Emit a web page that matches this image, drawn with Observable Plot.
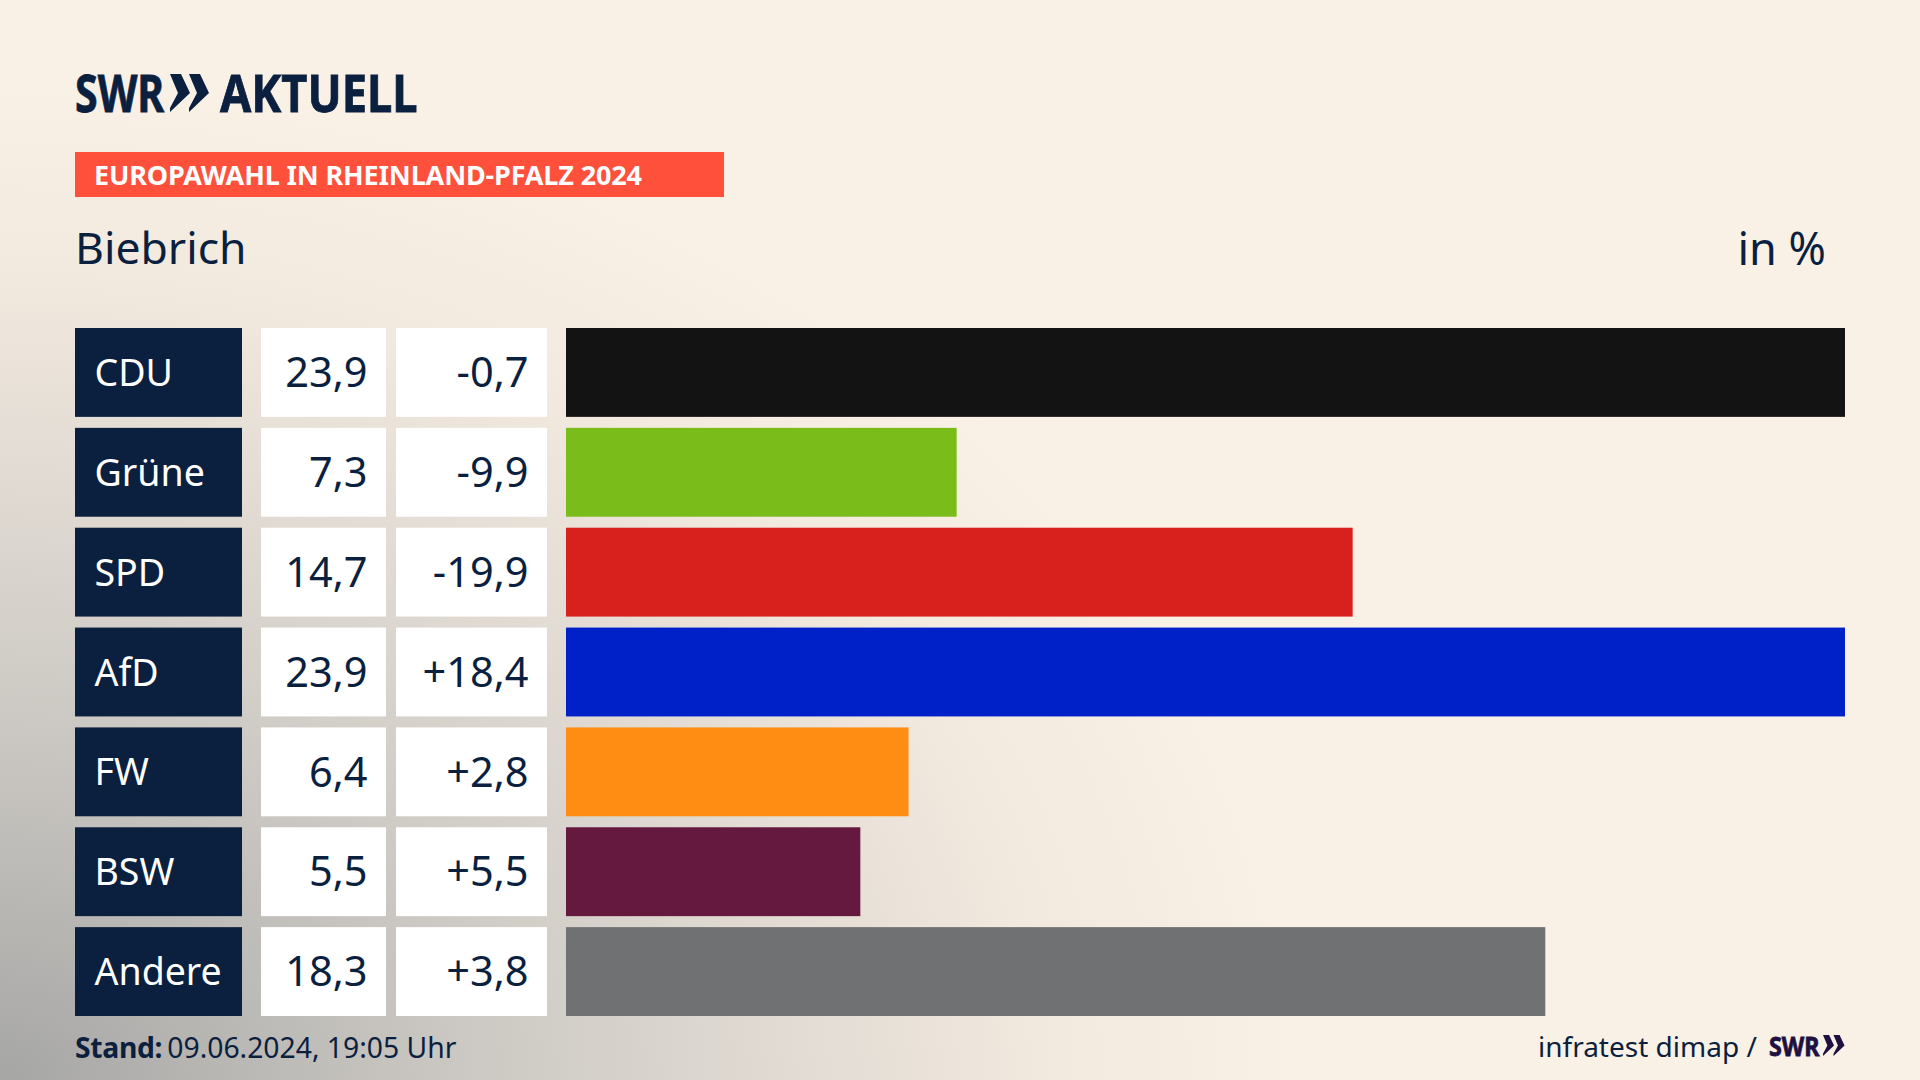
<!DOCTYPE html>
<html>
<head>
<meta charset="utf-8">
<script src="https://cdn.jsdelivr.net/npm/d3@7"></script>
<script src="https://cdn.jsdelivr.net/npm/@observablehq/plot@0.6"></script>
<style>
  html, body { margin: 0; padding: 0; }
  #page {
    position: relative; width: 1920px; height: 1080px; overflow: hidden;
    font-family: "Noto Sans", sans-serif; color: #0b1f3f;
    background:
      radial-gradient(ellipse 1300px 1000px at 0% 100%, #a6a6a5 0%, #c8c5c0 32%, #dfd9d2 58%, #f3eadf 82%, #faf1e6 100%),
      #faf1e6;
  }
  #page > div { position: absolute; white-space: nowrap; }
  #page svg.plot { display: block; max-width: none; }
  .logo { font-weight: 700; transform-origin: left center; -webkit-text-stroke: 0.8px currentColor; }
</style>
</head>
<body>
<div id="page">
  <div class="logo" style="left:75px;top:58px;font-size:52px;line-height:68px;transform:scaleX(0.79)">SWR</div>
  <div style="left:169px;top:74px">
    <svg width="40" height="38" viewBox="0 0 40 38"><path d="M1 0 L12 0 L21 19 L1 38 L1 34 L9 19Z M20 0 L31 0 L40 19 L20 38 L20 34 L28 19Z" fill="#0b1f3f"/></svg>
  </div>
  <div class="logo" style="left:220px;top:58px;font-size:52px;line-height:68px;transform:scaleX(0.87)">AKTUELL</div>

  <div style="left:75px;top:152px;width:649px;height:45px;background:#ff503c"></div>
  <div style="left:94px;top:152px;font-size:27px;line-height:45px;font-weight:700;color:#fff;letter-spacing:-0.15px">EUROPAWAHL IN RHEINLAND-PFALZ 2024</div>

  <div style="left:75px;top:217px;font-size:44.5px;line-height:60px">Biebrich</div>
  <div style="right:94px;top:218px;font-size:45px;line-height:60px">in %</div>

  <div id="col-party" style="left:75px;top:328px"></div>
  <div id="col-share" style="left:261px;top:328px"></div>
  <div id="col-change" style="left:396px;top:328px"></div>
  <div id="col-bars" style="left:566px;top:328px"></div>

  <div style="left:75px;top:1027px;font-size:28.3px;line-height:40px"><b style="letter-spacing:-0.3px;margin-right:5px">Stand:</b>09.06.2024, 19:05 Uhr</div>
  <div style="left:1538px;top:1026px;font-size:28px;line-height:40px">infratest dimap /</div>
  <div class="logo" style="left:1769px;top:1026px;font-size:27px;line-height:40px;color:#1e1040;transform:scaleX(0.86)">SWR</div>
  <div style="left:1822px;top:1035px">
    <svg width="23" height="21" viewBox="0 0 40 38"><path d="M1 0 L12 0 L21 19 L1 38 L1 34 L9 19Z M20 0 L31 0 L40 19 L20 38 L20 34 L28 19Z" fill="#1e1040"/></svg>
  </div>
</div>

<script>
const parties = ['CDU', 'Grüne', 'SPD', 'AfD', 'FW', 'BSW', 'Andere']
const shares = [23.9, 7.3, 14.7, 23.9, 6.4, 5.5, 18.3]
const changes = [-0.7, -9.9, -19.9, 18.4, 2.8, 5.5, 3.8]
const partyColors = ['#131313', '#7abc19', '#d8201c', '#0021c8', '#ff8d13', '#66193e', '#707173']

const rows = parties.map((party, i) => ({party, share: shares[i], change: changes[i]}))

const comma = v => v.toFixed(1).replace('.', ',')
const signed = v => (v > 0 ? '+' : '') + comma(v)

const rowsHeight = 688
const yScale = {type: 'band', domain: parties, paddingInner: 0.11, paddingOuter: 0, round: false, axis: null}
const base = {
  height: rowsHeight,
  margin: 0,
  y: yScale,
  style: {background: 'transparent', fontFamily: '"Noto Sans", sans-serif', overflow: 'visible'}
}

// one table column: a cell per row and its text
function column(id, width, cellFill, textFill, text, anchor, fontSize) {
  let chart = Plot.plot({
    ...base,
    width,
    marks: [
      Plot.cell(rows, {y: 'party', fill: cellFill}),
      Plot.text(rows, {
        y: 'party', text,
        frameAnchor: anchor,
        dx: anchor == 'left' ? 19 : -19,
        dy: 1,
        fill: textFill,
        fontSize
      })
    ]
  })
  d3.select(id).append(() => chart)
}

column('#col-party', 167, '#0b1f3f', '#ffffff', d => d.party, 'left', 37.5)
column('#col-share', 125, '#ffffff', '#0b1f3f', d => comma(d.share), 'right', 41.5)
column('#col-change', 151, '#ffffff', '#0b1f3f', d => signed(d.change), 'right', 41.5)

let bars = Plot.plot({
  ...base,
  width: 1279,
  x: {domain: [0, d3.max(shares)], axis: null},
  color: {domain: parties, range: partyColors},
  marks: [
    Plot.barX(rows, {x: 'share', y: 'party', fill: 'party'})
  ]
})
d3.select('#col-bars').append(() => bars)
</script>
</body>
</html>
